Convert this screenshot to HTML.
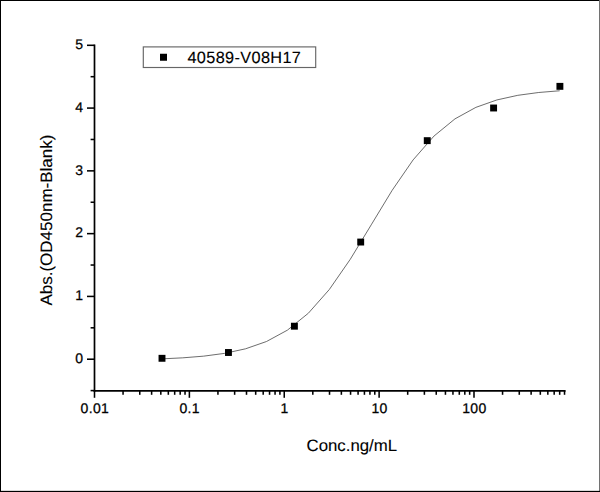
<!DOCTYPE html>
<html lang="en"><head><meta charset="utf-8"><title>40589-V08H17 ELISA curve</title>
<style>
html,body{margin:0;padding:0;background:#fff;}
body{width:600px;height:492px;overflow:hidden;position:relative;font-family:"Liberation Sans",sans-serif;}
svg{display:block;}
svg text{text-rendering:geometricPrecision;}
</style></head><body>
<svg width="600" height="492" viewBox="0 0 600 492" style="position:absolute;left:0;top:0">
<rect x="0" y="0" width="600" height="492" fill="#fff"/>
<polyline points="161.79,358.86 182.73,357.84 203.68,356.15 224.62,353.36 245.56,348.81 266.50,341.51 287.44,330.14 308.38,313.19 329.32,289.51 350.27,259.29 371.21,224.85 392.15,190.34 413.09,159.93 434.03,136.03 454.97,118.87 475.91,107.35 496.86,99.94 517.80,95.32 538.74,92.49 559.68,90.77" fill="none" stroke="#484848" stroke-width="0.8"/>
<g stroke="#000" stroke-width="1.70" fill="none" stroke-linecap="butt">
<line x1="94.50" y1="44.45" x2="94.50" y2="391.65"/>
<line x1="93.65" y1="390.80" x2="565.60" y2="390.80"/>
</g>
<g stroke="#000" stroke-width="1.55" fill="none">
<line x1="94.50" y1="390.80" x2="94.50" y2="397.80"/>
<line x1="123.06" y1="390.80" x2="123.06" y2="394.80"/>
<line x1="139.77" y1="390.80" x2="139.77" y2="394.80"/>
<line x1="151.62" y1="390.80" x2="151.62" y2="394.80"/>
<line x1="160.81" y1="390.80" x2="160.81" y2="394.80"/>
<line x1="168.33" y1="390.80" x2="168.33" y2="394.80"/>
<line x1="174.68" y1="390.80" x2="174.68" y2="394.80"/>
<line x1="180.18" y1="390.80" x2="180.18" y2="394.80"/>
<line x1="185.03" y1="390.80" x2="185.03" y2="394.80"/>
<line x1="189.38" y1="390.80" x2="189.38" y2="397.80"/>
<line x1="217.94" y1="390.80" x2="217.94" y2="394.80"/>
<line x1="234.64" y1="390.80" x2="234.64" y2="394.80"/>
<line x1="246.50" y1="390.80" x2="246.50" y2="394.80"/>
<line x1="255.69" y1="390.80" x2="255.69" y2="394.80"/>
<line x1="263.20" y1="390.80" x2="263.20" y2="394.80"/>
<line x1="269.55" y1="390.80" x2="269.55" y2="394.80"/>
<line x1="275.06" y1="390.80" x2="275.06" y2="394.80"/>
<line x1="279.91" y1="390.80" x2="279.91" y2="394.80"/>
<line x1="284.25" y1="390.80" x2="284.25" y2="397.80"/>
<line x1="312.81" y1="390.80" x2="312.81" y2="394.80"/>
<line x1="329.52" y1="390.80" x2="329.52" y2="394.80"/>
<line x1="341.37" y1="390.80" x2="341.37" y2="394.80"/>
<line x1="350.56" y1="390.80" x2="350.56" y2="394.80"/>
<line x1="358.08" y1="390.80" x2="358.08" y2="394.80"/>
<line x1="364.43" y1="390.80" x2="364.43" y2="394.80"/>
<line x1="369.93" y1="390.80" x2="369.93" y2="394.80"/>
<line x1="374.78" y1="390.80" x2="374.78" y2="394.80"/>
<line x1="379.12" y1="390.80" x2="379.12" y2="397.80"/>
<line x1="407.69" y1="390.80" x2="407.69" y2="394.80"/>
<line x1="424.39" y1="390.80" x2="424.39" y2="394.80"/>
<line x1="436.25" y1="390.80" x2="436.25" y2="394.80"/>
<line x1="445.44" y1="390.80" x2="445.44" y2="394.80"/>
<line x1="452.95" y1="390.80" x2="452.95" y2="394.80"/>
<line x1="459.30" y1="390.80" x2="459.30" y2="394.80"/>
<line x1="464.81" y1="390.80" x2="464.81" y2="394.80"/>
<line x1="469.66" y1="390.80" x2="469.66" y2="394.80"/>
<line x1="474.00" y1="390.80" x2="474.00" y2="397.80"/>
<line x1="502.56" y1="390.80" x2="502.56" y2="394.80"/>
<line x1="519.27" y1="390.80" x2="519.27" y2="394.80"/>
<line x1="531.12" y1="390.80" x2="531.12" y2="394.80"/>
<line x1="540.31" y1="390.80" x2="540.31" y2="394.80"/>
<line x1="547.83" y1="390.80" x2="547.83" y2="394.80"/>
<line x1="554.18" y1="390.80" x2="554.18" y2="394.80"/>
<line x1="559.68" y1="390.80" x2="559.68" y2="394.80"/>
<line x1="564.53" y1="390.80" x2="564.53" y2="394.80"/>
<line x1="94.50" y1="390.59" x2="90.60" y2="390.59"/>
<line x1="94.50" y1="359.20" x2="87.00" y2="359.20"/>
<line x1="94.50" y1="327.81" x2="90.60" y2="327.81"/>
<line x1="94.50" y1="296.42" x2="87.00" y2="296.42"/>
<line x1="94.50" y1="265.03" x2="90.60" y2="265.03"/>
<line x1="94.50" y1="233.64" x2="87.00" y2="233.64"/>
<line x1="94.50" y1="202.25" x2="90.60" y2="202.25"/>
<line x1="94.50" y1="170.86" x2="87.00" y2="170.86"/>
<line x1="94.50" y1="139.47" x2="90.60" y2="139.47"/>
<line x1="94.50" y1="108.08" x2="87.00" y2="108.08"/>
<line x1="94.50" y1="76.69" x2="90.60" y2="76.69"/>
<line x1="94.50" y1="45.30" x2="87.00" y2="45.30"/>
</g>
<rect x="158.55" y="354.85" width="6.90" height="6.90" fill="#000"/>
<rect x="225.00" y="349.05" width="6.90" height="6.90" fill="#000"/>
<rect x="290.95" y="322.75" width="6.90" height="6.90" fill="#000"/>
<rect x="357.25" y="238.60" width="6.90" height="6.90" fill="#000"/>
<rect x="423.80" y="137.20" width="6.90" height="6.90" fill="#000"/>
<rect x="490.15" y="104.55" width="6.90" height="6.90" fill="#000"/>
<rect x="556.45" y="82.90" width="6.90" height="6.90" fill="#000"/>
<g font-family="'Liberation Sans', sans-serif" font-size="14.00" fill="#000" stroke="#000" stroke-width="0.25">
<text x="94.85" y="412.50" text-anchor="middle" letter-spacing="0.3">0.01</text>
<text x="189.72" y="412.50" text-anchor="middle" letter-spacing="0.3">0.1</text>
<text x="284.60" y="412.50" text-anchor="middle" letter-spacing="0.3">1</text>
<text x="379.48" y="412.50" text-anchor="middle" letter-spacing="0.3">10</text>
<text x="474.35" y="412.50" text-anchor="middle" letter-spacing="0.3">100</text>
<text x="83.15" y="362.85" text-anchor="end">0</text>
<text x="83.15" y="300.07" text-anchor="end">1</text>
<text x="83.15" y="237.29" text-anchor="end">2</text>
<text x="83.15" y="174.51" text-anchor="end">3</text>
<text x="83.15" y="111.73" text-anchor="end">4</text>
<text x="83.15" y="48.95" text-anchor="end">5</text>
</g>
<g font-family="'Liberation Sans', sans-serif" font-size="17.00" fill="#000" stroke="#000" stroke-width="0.1">
<text transform="translate(351.8,451.4) scale(1.025,1)" text-anchor="middle" font-size="16.4">Conc.ng/mL</text>
<text transform="translate(52,220.1) rotate(-90) scale(1.03,1)" text-anchor="middle" font-size="16.5">Abs.(OD450nm-Blank)</text>
</g>
<rect x="143.3" y="46.9" width="172.4" height="20.6" fill="#fff" stroke="#666" stroke-width="1.15"/>
<rect x="160.00" y="53.75" width="7.00" height="7.00" fill="#000"/>
<text x="187.4" y="63.1" font-family="'Liberation Sans', sans-serif" font-size="16.30" letter-spacing="0.36" fill="#000" stroke="#000" stroke-width="0.12">40589-V08H17</text>
<rect x="0" y="0" width="600" height="1" fill="#000"/>
<rect x="0" y="0" width="1" height="492" fill="#000"/>
<rect x="599" y="0" width="1" height="492" fill="#727272"/>
<rect x="0" y="490.85" width="600" height="1.15" fill="#000"/>
</svg>
</body></html>
